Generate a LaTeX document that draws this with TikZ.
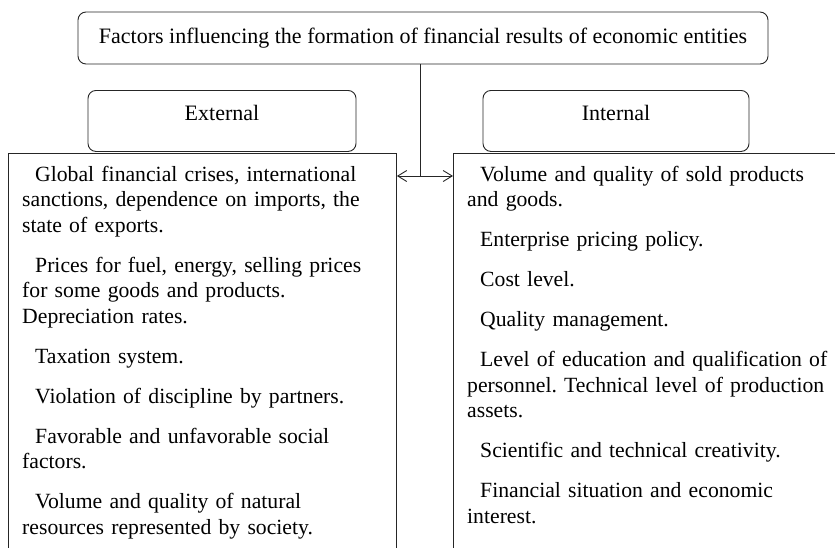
\documentclass[tikz,border=0pt]{standalone}
\usepackage{fontspec}
\setmainfont{Liberation Serif}
\usetikzlibrary{arrows.meta}
\frenchspacing

\begin{document}
\begin{tikzpicture}[x=1pt,y=-1pt]

    % styles
    \tikzstyle{frame} = [line width=0.9pt,draw=black!85]
    \tikzstyle{headbox} = [frame,rounded corners=8pt,inner sep=0pt,font=\fontsize{22}{25.5}\selectfont]
    \tikzstyle{colbox} = [frame,inner sep=0pt,anchor=north west,minimum height=450pt]
    \tikzstyle{coltext} = [inner sep=0pt,anchor=north west,align=left,text width=420pt,
        font=\fontsize{21.7}{25.5}\selectfont\frenchspacing]
    \tikzstyle{link} = [frame,{Straight Barb[length=9pt,width=11pt]}-{Straight Barb[length=9pt,width=11pt]}]

    \useasboundingbox (0,0) rectangle (835,547);

    % title
    \node[headbox,minimum width=690pt,minimum height=52pt] (title) at (423,38)
        {Factors influencing the formation of financial results of economic entities};

    % heads
    \node[headbox,anchor=north,minimum width=268pt,text height=30pt,text depth=31pt] (ext) at (222,90) {External};
    \node[headbox,anchor=north,minimum width=266pt,text height=30pt,text depth=31pt] (int) at (616,90) {Internal};

    % columns
    \node[colbox,minimum width=388pt] (extbox) at (8,153) {};
    \node[colbox,minimum width=450pt] (intbox) at (453,153) {};

    \node[coltext] (extlist) at ([xshift=14pt,yshift=-13pt]extbox.north west) {%
        \hspace*{13pt}Global financial crises, international\\
        sanctions, dependence on imports, the\\
        state of exports.\\[14.5pt]
        \hspace*{13pt}Prices for fuel, energy, selling prices\\
        for some goods and products.\\
        Depreciation rates.\\[14.5pt]
        \hspace*{13pt}Taxation system.\\[14.5pt]
        \hspace*{13pt}Violation of discipline by partners.\\[14.5pt]
        \hspace*{13pt}Favorable and unfavorable social\\
        factors.\\[14.5pt]
        \hspace*{13pt}Volume and quality of natural\\
        resources represented by society.};

    \node[coltext] (intlist) at ([xshift=14pt,yshift=-13pt]intbox.north west) {%
        \hspace*{13pt}Volume and quality of sold products\\
        and goods.\\[14.5pt]
        \hspace*{13pt}Enterprise pricing policy.\\[14.5pt]
        \hspace*{13pt}Cost level.\\[14.5pt]
        \hspace*{13pt}Quality management.\\[14.5pt]
        \hspace*{13pt}Level of education and qualification of\\
        personnel. Technical level of production\\
        assets.\\[14.5pt]
        \hspace*{13pt}Scientific and technical creativity.\\[14.5pt]
        \hspace*{13pt}Financial situation and economic\\
        interest.};

    % links
    \coordinate (hub) at (420,176);
    \draw[frame] (title.south -| hub) -- (hub);
    \draw[link] (extbox.east |- hub) -- (intbox.west |- hub);
\end{tikzpicture}
\end{document}
